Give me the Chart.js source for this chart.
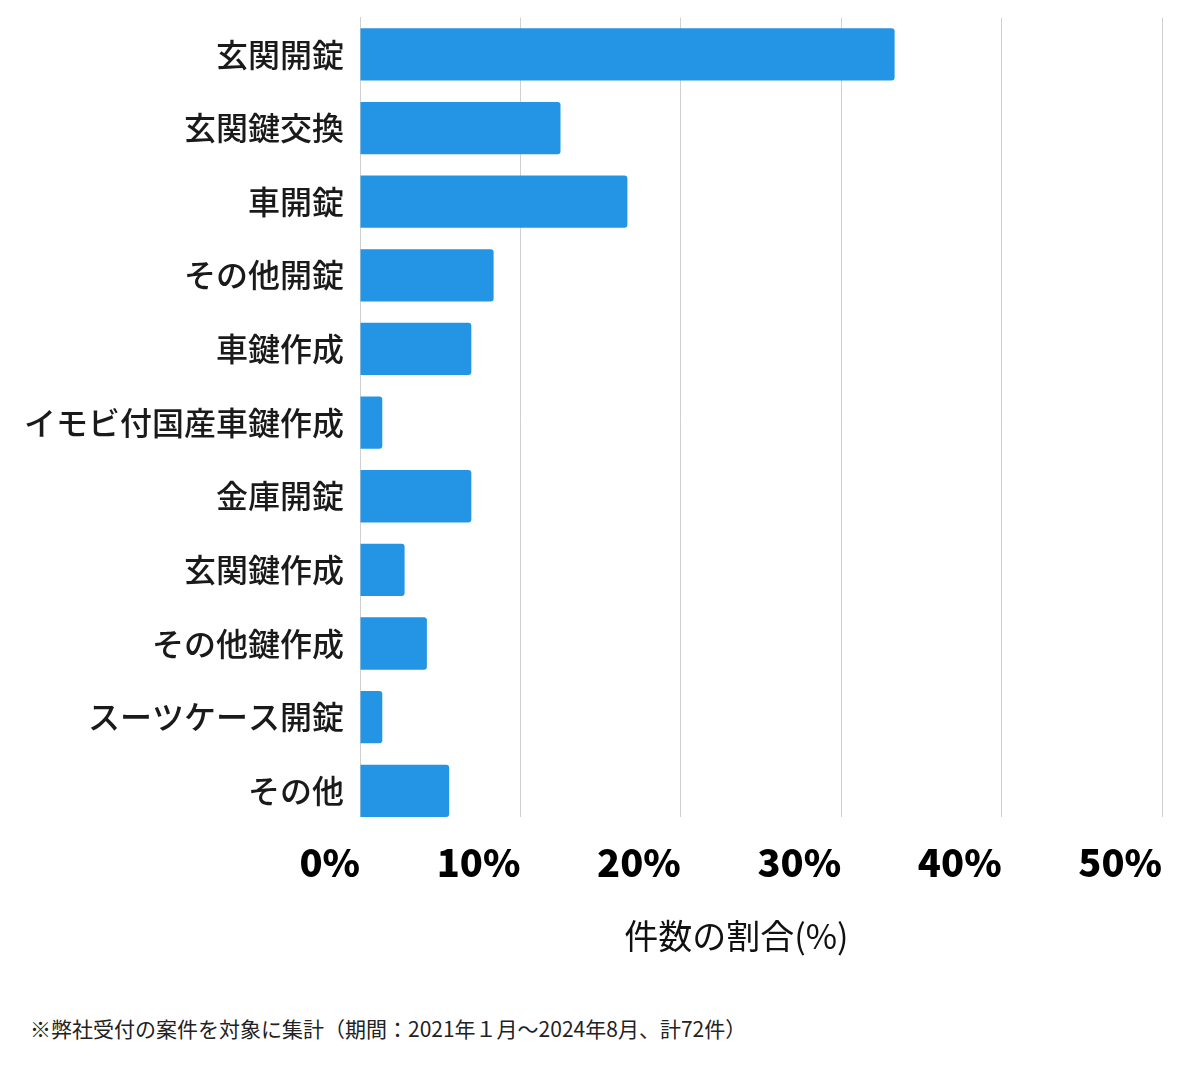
<!DOCTYPE html>
<html lang="ja">
<head>
<meta charset="utf-8">
<script src="https://cdn.jsdelivr.net/npm/chart.js@4.4.1/dist/chart.umd.min.js"></script>
<style>
  body { margin: 0; background: #fff; font-family: "Noto Sans CJK JP", sans-serif; }
  #wrap { width: 1200px; height: 975px; position: relative; }
  #note { margin: 38px 0 0 30px; font-size: 21px; color: #222; }
</style>
</head>
<body>
<div id="wrap"><canvas id="chart"></canvas></div>
<div id="note">※弊社受付の案件を対象に集計（期間：2021年１月〜2024年8月、計72件）</div>
<script>
// 件数の割合 (%)
const categories = ['玄関開錠', '玄関鍵交換', '車開錠', 'その他開錠', '車鍵作成', 'イモビ付国産車鍵作成', '金庫開錠', '玄関鍵作成', 'その他鍵作成', 'スーツケース開錠', 'その他'];
const shares = [33.33, 12.5, 16.67, 8.33, 6.94, 1.39, 6.94, 2.78, 4.17, 1.39, 5.56];
const xTicks = [0, 10, 20, 30, 40, 50];

const FONT = '"Noto Sans CJK JP", sans-serif';

// grid lines in the original stop at the bottom edge of the last bar
const trimGrid = {
    id: 'trimGrid',
    beforeDatasetsDraw(chart) {
        const bars = chart.getDatasetMeta(0).data;
        if (!bars.length) return;
        const last = bars[bars.length - 1];
        const bottom = last.y + last.height / 2;
        const { ctx, chartArea } = chart;
        ctx.save();
        ctx.fillStyle = '#fff';
        ctx.fillRect(chartArea.left - 2, bottom, chartArea.right - chartArea.left + 4, chartArea.bottom - bottom + 1);
        ctx.restore();
    }
};

new Chart(document.getElementById('chart'), {
    type: 'bar',
    data: {
        labels: categories,
        datasets: [{
            data: shares,
            backgroundColor: '#2495e5',
            borderRadius: { topRight: 3, bottomRight: 3 },
            borderSkipped: 'start',
            categoryPercentage: 0.71,
            barPercentage: 1
        }]
    },
    options: {
        indexAxis: 'y',
        responsive: true,
        maintainAspectRatio: false,
        animation: false,
        layout: { padding: { top: 2, right: 38, bottom: 19, left: 8 } },
        scales: {
            x: {
                min: 0, max: 50,
                afterBuildTicks: axis => { axis.ticks = xTicks.map(v => ({ value: v })); },
                grid: { color: '#d0d0d0', drawTicks: false },
                border: { display: false },
                ticks: {
                    align: 'end',
                    padding: 12,
                    color: '#000',
                    font: { family: FONT, size: 38, weight: 900 },
                    callback: v => v + '%'
                },
                title: {
                    display: true,
                    // trailing space nudges the centred title left, as in the original
                    text: '件数の割合(%)\u3000  ',
                    color: '#111',
                    padding: { top: 18, bottom: 0 },
                    font: { family: FONT, size: 34 }
                }
            },
            y: {
                grid: { display: false, drawTicks: false },
                border: { display: true, color: '#d0d0d0' },
                ticks: {
                    padding: 16,
                    color: '#1a1a1a',
                    // small lineHeight keeps the axis from reserving extra space above the first bar
                    font: { family: FONT, size: 32, weight: 500, lineHeight: 0.1 }
                }
            }
        },
        plugins: {
            legend: { display: false },
            tooltip: { enabled: false }
        }
    },
    plugins: [trimGrid]
});
</script>
</body>
</html>
